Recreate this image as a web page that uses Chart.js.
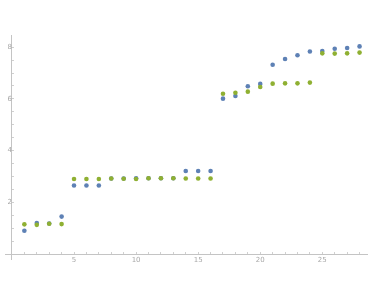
<!DOCTYPE html>
<html>
<head>
<meta charset="utf-8">
<script src="https://cdn.jsdelivr.net/npm/chart.js@4/dist/chart.umd.min.js"></script>
<style>
  body { margin: 0; background: #fff; }
</style>
</head>
<body>
<canvas id="plot" width="374" height="289"></canvas>
<script>
const xValues = [1, 2, 3, 4, 5, 6, 7, 8, 9, 10, 11, 12, 13, 14, 15, 16, 17, 18, 19, 20, 21, 22, 23, 24, 25, 26, 27, 28];
const blueValues = [0.9, 1.2, 1.18, 1.45, 2.65, 2.65, 2.65, 2.92, 2.92, 2.93, 2.93, 2.93, 2.93, 3.21, 3.21, 3.21,
    6.01, 6.11, 6.49, 6.58, 7.32, 7.54, 7.69, 7.83, 7.85, 7.94, 7.97, 8.03];
const greenValues = [1.15, 1.13, 1.17, 1.16, 2.9, 2.9, 2.9, 2.92, 2.91, 2.9, 2.93, 2.93, 2.93, 2.92, 2.92, 2.92,
    6.2, 6.24, 6.28, 6.46, 6.59, 6.6, 6.6, 6.63, 7.76, 7.75, 7.76, 7.79];
const xTickLabels = [5, 10, 15, 20, 25];
const yTickLabels = [2, 4, 6, 8];

const toPoints = vals => vals.map((v, i) => ({ x: xValues[i], y: v }));

const axisFont = { family: 'DejaVu Sans', size: 7 };

new Chart(document.getElementById('plot'), {
    type: 'scatter',
    data: {
        datasets: [{
            label: 'blue',
            data: toPoints(blueValues),
            backgroundColor: '#5E81B5',
            borderWidth: 0,
            pointRadius: 2.3,
            order: 1
        }, {
            label: 'green',
            data: toPoints(greenValues),
            backgroundColor: '#8FB032',
            borderWidth: 0,
            pointRadius: 2.3,
            order: 0
        }]
    },
    options: {
        responsive: false,
        animation: false,
        layout: { padding: { left: 5, right: 7, top: 35, bottom: 30 } },
        plugins: {
            legend: { display: false },
            tooltip: { enabled: false }
        },
        scales: {
            x: {
                type: 'linear',
                position: { y: 0 },
                min: -0.56,
                max: 28.6,
                afterBuildTicks: s => {
                    s.ticks = xValues.map(v => ({ value: v }));
                },
                ticks: {
                    autoSkip: false,
                    maxRotation: 0,
                    padding: 5,
                    color: '#a8a8a8',
                    font: axisFont,
                    callback: v => xTickLabels.includes(v) ? String(v) : ''
                },
                // negative length puts the ticks on the inside, like the reference
                grid: { drawOnChartArea: false, tickLength: -3, tickColor: '#d0d0d0' },
                border: { color: '#c4c4c4', width: 1 }
            },
            y: {
                type: 'linear',
                position: { x: 0 },
                min: -0.19,
                max: 8.47,
                afterBuildTicks: s => {
                    const t = [];
                    for (let v = 0.5; v <= 8; v += 0.5) t.push({ value: v });
                    s.ticks = t;
                },
                ticks: {
                    autoSkip: false,
                    padding: 4,
                    color: '#a8a8a8',
                    font: axisFont,
                    callback: v => yTickLabels.includes(v) ? String(v) : ''
                },
                grid: { drawOnChartArea: false, tickLength: -3, tickColor: '#d0d0d0' },
                border: { color: '#c4c4c4', width: 1 }
            }
        }
    }
});
</script>
</body>
</html>
